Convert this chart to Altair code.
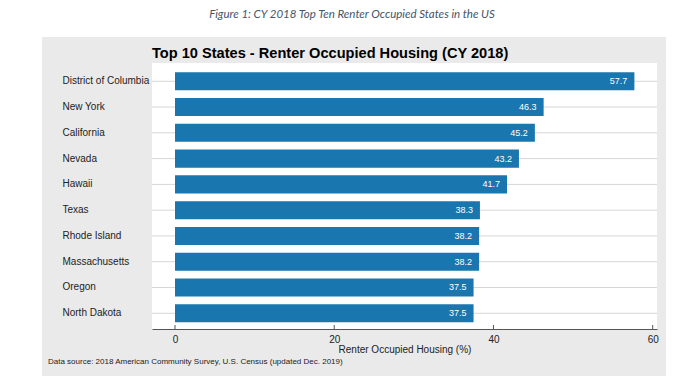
import altair as alt
import pandas as pd

# ---- data ----
states = ["District of Columbia", "New York", "California", "Nevada", "Hawaii",
          "Texas", "Rhode Island", "Massachusetts", "Oregon", "North Dakota"]
values = [57.7, 46.3, 45.2, 43.2, 41.7, 38.3, 38.2, 38.2, 37.5, 37.5]
x_ticks = [0, 20, 40, 60]

caption = "Figure 1: CY 2018 Top Ten Renter Occupied States in the US"
chart_title = "Top 10 States - Renter Occupied Housing (CY 2018)"
x_title = "Renter Occupied Housing (%)"
source_note = "Data source: 2018 American Community Survey, U.S. Census (updated Dec. 2019)"

df = pd.DataFrame({"state": states, "value": values})
ticks_df = pd.DataFrame({"t": x_ticks})
one = pd.DataFrame({"caption": [caption], "title": [chart_title], "source": [source_note]})

W, H = 505, 266
FONT = "Liberation Sans"
BAR = "#1a76af"
TXT = "#222222"

xscale = alt.Scale(domain=[-2.89, 60.54], nice=False)
yscale = alt.Scale(domain=states, paddingInner=0.30, paddingOuter=0.31, align=0.58)

x_axis = alt.Axis(values=x_ticks, title=x_title, grid=False, ticks=False, tickSize=0,
                  domain=True, domainColor="#555555", domainWidth=1,
                  labelPadding=5, labelFontSize=10, labelFont=FONT, labelColor=TXT,
                  labelFlush=False, format="d",
                  titleFont=FONT, titleFontSize=10, titleFontWeight="normal",
                  titleColor=TXT, titlePadding=0, zindex=1)
y_axis = alt.Axis(title=None, domain=False, ticks=False, tickSize=0, grid=False,
                  labelAlign="left", labelPadding=90, labelFontSize=10, labelFont=FONT,
                  labelColor=TXT, zindex=1)

x_enc = alt.X("value:Q", scale=xscale, axis=x_axis)
y_enc = alt.Y("state:N", sort=states, scale=yscale, axis=y_axis)

panel = alt.Chart(one).mark_rect(color="#eaeaea").encode(
    x=alt.value(-110), x2=alt.value(514), y=alt.value(-26), y2=alt.value(313))
plot_bg = alt.Chart(one).mark_rect(color="white").encode(
    x=alt.value(0), x2=alt.value(W), y=alt.value(0), y2=alt.value(H))

grid = alt.Chart(df).mark_rule(color="#d6d6d6", strokeWidth=1).encode(
    y=y_enc, x=alt.value(0), x2=alt.value(W))

bars = alt.Chart(df).mark_bar(color=BAR).encode(x=x_enc, y=y_enc)

labels = alt.Chart(df).mark_text(align="right", baseline="middle", dx=-7,
                                 color="white", fontSize=9, font=FONT).encode(
    x=x_enc, y=y_enc, text=alt.Text("value:Q", format=".1f"))

ticks = alt.Chart(ticks_df).mark_rule(color="#555555", strokeWidth=1).encode(
    x=alt.X("t:Q", scale=xscale, axis=x_axis), y=alt.value(H - 4), y2=alt.value(H))

title_txt = alt.Chart(one).mark_text(align="left", baseline="alphabetic", font=FONT,
                                     fontSize=14.6, fontWeight="bold", color="#000000").encode(
    text="title:N", x=alt.value(0), y=alt.value(-5))

cap = alt.Chart(one).mark_text(align="center", baseline="middle", font="Lato",
                               fontStyle="italic", fontSize=11.5, color="#44546A").encode(
    text="caption:N", x=alt.value(200), y=alt.value(-48))

src = alt.Chart(one).mark_text(align="left", baseline="middle", font=FONT,
                               fontSize=8, color=TXT).encode(
    text="source:N", x=alt.value(-104), y=alt.value(299))

chart = alt.layer(panel, plot_bg, grid, bars, labels, ticks, title_txt, cap, src).properties(
    width=W, height=H,
    padding={"left": 144, "top": 55, "right": 20, "bottom": 49},
    autosize=alt.AutoSizeParams(type="none"),
).configure_view(stroke=None).configure(background="white")

chart.save("out.html", embed_options={"renderer": "svg", "actions": False})
